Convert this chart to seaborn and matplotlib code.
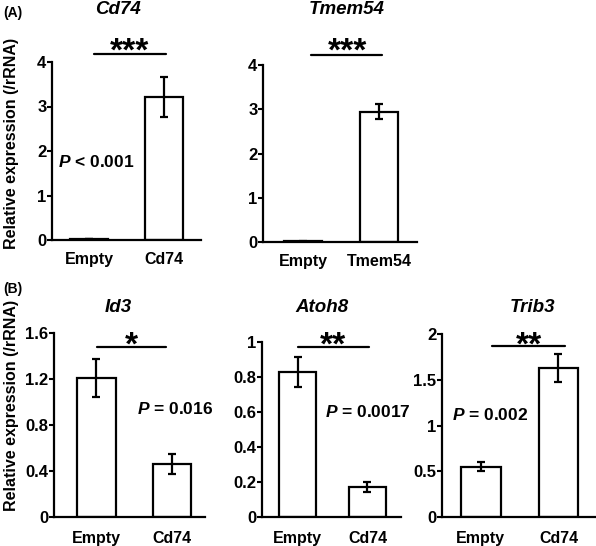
import numpy as np
import matplotlib.pyplot as plt
import seaborn as sns

# data (mean, error)
groups_cd74 = ['Empty', 'Cd74']
cd74_mean = [0.02, 3.22]
cd74_err = [0.005, 0.45]

groups_tmem54 = ['Empty', 'Tmem54']
tmem54_mean = [0.015, 2.94]
tmem54_err = [0.005, 0.17]

groups_b = ['Empty', 'Cd74']
id3_mean = [1.21, 0.46]
id3_err = [0.165, 0.09]
atoh8_mean = [0.83, 0.17]
atoh8_err = [0.085, 0.028]
trib3_mean = [0.55, 1.63]
trib3_err = [0.05, 0.15]

cd74_ticks = [0, 1, 2, 3, 4]
tmem54_ticks = [0, 1, 2, 3, 4]
id3_ticks = [0, 0.4, 0.8, 1.2, 1.6]
atoh8_ticks = [0, 0.2, 0.4, 0.6, 0.8, 1]
trib3_ticks = [0, 0.5, 1, 1.5, 2]

stars = ['***', '***', '*', '**', '**']
pvals = ['$P$ < 0.001', None, '$P$ = 0.016', '$P$ = 0.0017', '$P$ = 0.002']

sns.set_style('ticks')
plt.rcParams['font.family'] = ['Liberation Sans', 'DejaVu Sans']
plt.rcParams['font.weight'] = 'bold'
plt.rcParams['mathtext.fontset'] = 'custom'
plt.rcParams['mathtext.it'] = 'Liberation Sans:italic:bold'
plt.rcParams['mathtext.rm'] = 'Liberation Sans:bold'
for k in ['text.color', 'axes.labelcolor', 'xtick.color', 'ytick.color', 'axes.edgecolor']:
    plt.rcParams[k] = 'black'

W, H = 596, 546
fig = plt.figure(figsize=(W / 100, H / 100), dpi=100)

def px_axes(l, r, t, b):
    return fig.add_axes([l / W, (H - b) / H, (r - l) / W, (b - t) / H])

panels = [
    # name, groups, mean, err, ticks, box(px), xlim, width, sig line, star pos, p pos, title x, title base, xpad
    ('Cd74', groups_cd74, cd74_mean, cd74_err, cd74_ticks, (52, 201, 62, 240),
     (-0.5, 1.5), 0.51, (0.07, 1.03, 4.18), (0.54, 4.04), (0.09, 1.64), 118, 14, 8.5),
    ('Tmem54', groups_tmem54, tmem54_mean, tmem54_err, tmem54_ticks, (263, 417, 65, 242),
     (-0.53, 1.5), 0.5, (0.10, 1.04, 4.23), (0.58, 4.11), None, 347, 14, 8.5),
    ('Id3', groups_b, id3_mean, id3_err, id3_ticks, (54, 205, 333, 517),
     (-0.56, 1.44), 0.51, (0.01, 0.93, 1.48), (0.47, 1.41), (1.05, 0.90), 118, 312, 10),
    ('Atoh8', groups_b, atoh8_mean, atoh8_err, atoh8_ticks, (262, 401, 342, 517),
     (-0.51, 1.48), 0.53, (0.0, 1.02, 0.97), (0.51, 0.93), (1.0, 0.57), 322, 312, 10),
    ('Trib3', groups_b, trib3_mean, trib3_err, trib3_ticks, (442, 595, 334, 517),
     (-0.5, 1.47), 0.51, (0.15, 1.08, 1.87), (0.62, 1.77), (0.12, 1.06), 532, 312, 10),
]

axes = []
for i, (name, grp, mean, err, ticks, box, xlim, bw, sig, spos, ppos, tx, tb, xpad) in enumerate(panels):
    ax = px_axes(*box)
    axes.append(ax)
    sns.barplot(x=grp, y=mean, ax=ax, color='white', edgecolor='black',
                linewidth=1.6, width=bw, saturation=1, errorbar=None)
    ax.errorbar(range(len(grp)), mean, yerr=err, fmt='none', ecolor='black',
                elinewidth=1.6, capsize=2.6, capthick=1.6)
    ax.set_ylim(ticks[0], ticks[-1])
    ax.set_xlim(*xlim)
    ax.set_yticks(ticks)
    ax.set_yticklabels([('%g' % t) for t in ticks])
    ax.tick_params(axis='y', length=3.5, width=1.5, pad=0.5, colors='black', labelsize=12)
    ax.tick_params(axis='x', length=0, pad=xpad, labelsize=11.5, colors='black')
    sns.despine(ax=ax)
    for s in ['left', 'bottom']:
        ax.spines[s].set_linewidth(1.6)
        ax.spines[s].set_color('black')
    ax.set_xlabel('')
    ax.set_ylabel('')
    # significance bar
    ax.plot([sig[0], sig[1]], [sig[2], sig[2]], color='black', lw=1.6, clip_on=False)
    ax.text(spos[0], spos[1], stars[i], ha='center', va='baseline', fontsize=24,
            fontweight='bold', clip_on=False)
    if ppos is not None:
        ax.text(ppos[0], ppos[1], pvals[i], ha='center', va='baseline', fontsize=12.5,
                fontweight='bold', clip_on=False)
    fig.text(tx / W, 1 - tb / H, name, ha='center', va='baseline', fontsize=13.5,
             fontweight='bold', fontstyle='italic')

fig.text(3 / W, 1 - 17 / H, '(A)', ha='left', va='baseline', fontsize=10, fontweight='bold')
fig.text(3 / W, 1 - 293 / H, '(B)', ha='left', va='baseline', fontsize=10, fontweight='bold')
fig.text(12 / W, 1 - 143 / H, 'Relative expression (/rRNA)', rotation=90, ha='center',
         va='center', fontsize=11.5, fontweight='bold')
fig.text(12 / W, 1 - 405 / H, 'Relative expression (/rRNA)', rotation=90, ha='center',
         va='center', fontsize=11.5, fontweight='bold')

# make sure tick labels come out bold after the ticks are built
fig.canvas.draw()
for ax in axes:
    for lab in ax.get_xticklabels() + ax.get_yticklabels():
        lab.set_fontweight('bold')

fig.savefig('out.png', dpi=100)
